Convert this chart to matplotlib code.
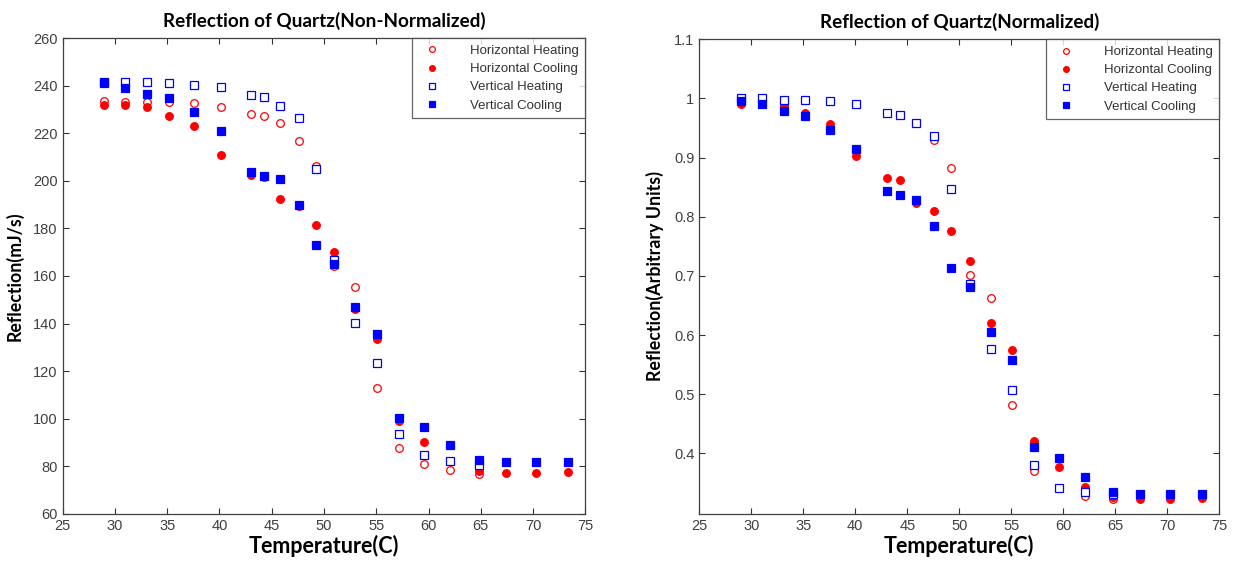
## reflection of quartz, raw and normalized ##

import matplotlib
matplotlib.use('Agg')
import matplotlib.pyplot as plt

# temperatures (C); heating runs stop at 64.8
temp_cool = [29.0, 31.0, 33.1, 35.2, 37.6, 40.1, 43.0, 44.3, 45.8, 47.6, 49.2,
             51.0, 53.0, 55.1, 57.2, 59.6, 62.1, 64.8, 67.4, 70.3, 73.3]
temp_heat = temp_cool[:18]

# non-normalized reflection (mJ/s)
h_heat = [233.7, 233.4, 233.4, 233.0, 232.6, 230.9, 228.0, 227.3, 224.3, 216.9,
          206.2, 164.3, 155.4, 112.9, 87.7, 81.0, 78.2, 76.6]
h_cool = [231.9, 231.9, 231.3, 227.3, 223.2, 211.0, 202.3, 201.6, 192.5, 189.3,
          181.4, 170.0, 146.0, 133.5, 98.9, 90.0, 82.2, 78.0, 77.2, 77.1, 77.4]
v_heat = [241.8, 241.8, 241.4, 241.0, 240.5, 239.6, 236.2, 235.1, 231.7, 226.6,
          205.0, 166.6, 140.3, 123.6, 93.7, 84.5, 82.2, 80.3]
v_cool = [241.1, 239.2, 236.5, 234.7, 228.8, 221.0, 203.8, 202.1, 201.0, 189.8,
          173.1, 165.1, 146.9, 135.4, 100.3, 96.3, 88.8, 82.5, 81.8, 81.8, 81.8]

# normalized reflection
hn_heat = [1.000, 1.000, 0.998, 0.997, 0.995, 0.990, 0.976, 0.972, 0.959, 0.929,
           0.882, 0.702, 0.663, 0.481, 0.371, 0.341, 0.328, 0.323]
hn_cool = [0.990, 0.999, 0.989, 0.975, 0.956, 0.902, 0.866, 0.862, 0.823, 0.810,
           0.776, 0.725, 0.621, 0.575, 0.421, 0.377, 0.343, 0.326, 0.323, 0.322, 0.324]
vn_heat = [1.000, 1.000, 0.998, 0.997, 0.995, 0.991, 0.976, 0.972, 0.958, 0.936,
           0.847, 0.687, 0.577, 0.507, 0.381, 0.342, 0.335, 0.331]
vn_cool = [0.995, 0.990, 0.978, 0.970, 0.946, 0.914, 0.843, 0.836, 0.829, 0.785,
           0.714, 0.681, 0.605, 0.558, 0.411, 0.392, 0.360, 0.334, 0.332, 0.332, 0.332]

labels = ['Horizontal Heating', 'Horizontal Cooling', 'Vertical Heating', 'Vertical Cooling']

plt.rcParams['font.family'] = ['Liberation Sans', 'DejaVu Sans']
title_font = {'family': 'Lato', 'weight': 'bold', 'size': 13.6}
xlab_font = {'family': 'Lato', 'weight': 'bold', 'size': 15.5}
ylab_font = {'family': 'Lato', 'weight': 'bold', 'size': 12.8}

fig = plt.figure(figsize=(12.34, 5.63), dpi=100)
ax1 = fig.add_axes([0.0508, 0.0876, 0.4235, 0.8444])
ax2 = fig.add_axes([0.5667, 0.0876, 0.4214, 0.8426])


def draw(ax, hh, hc, vh, vc, title, ylabel):
    ms = 5.5
    ax.plot(temp_heat, hh, 'o', color='red', mfc='white', mew=0.9, ms=ms, label=labels[0])
    ax.plot(temp_cool, hc, 'o', color='red', mfc='red', mew=0.9, ms=ms, label=labels[1])
    ax.plot(temp_heat, vh, 's', color='blue', mfc='white', mew=0.9, ms=ms, label=labels[2])
    ax.plot(temp_cool, vc, 's', color='blue', mfc='blue', mew=0.9, ms=ms, label=labels[3])
    ax.set_title(title, fontdict=title_font, pad=8)
    ax.set_xlabel('Temperature(C)', fontdict=xlab_font, labelpad=2)
    ax.set_ylabel(ylabel, fontdict=ylab_font, labelpad=7)
    ax.set_xlim(25, 75)
    ax.set_xticks(range(25, 80, 5))
    ax.tick_params(direction='in', top=True, right=True, length=4, width=0.8,
                   labelsize=10.5, labelcolor='#404040', color='#333333')
    for s in ax.spines.values():
        s.set_color('#404040')
        s.set_linewidth(0.9)
    leg = ax.legend(loc='upper right', fontsize=9.5, frameon=True, fancybox=False,
                    borderaxespad=0, handletextpad=1.9, labelspacing=0.45,
                    handlelength=2.0, borderpad=0.5, markerscale=0.75)
    leg.get_frame().set_edgecolor('#404040')
    leg.get_frame().set_linewidth(0.9)
    for t in leg.get_texts():
        t.set_color('#333333')


draw(ax1, h_heat, h_cool, v_heat, v_cool, 'Reflection of Quartz(Non-Normalized)', 'Reflection(mJ/s)')
ax1.set_ylim(60, 260)
ax1.set_yticks(range(60, 261, 20))

draw(ax2, hn_heat, hn_cool, vn_heat, vn_cool, 'Reflection of Quartz(Normalized)', 'Reflection(Arbitrary Units)')
ax2.set_ylim(0.298, 1.1)
ax2.set_yticks([0.4, 0.5, 0.6, 0.7, 0.8, 0.9, 1.0, 1.1])
ax2.set_yticklabels(['0.4', '0.5', '0.6', '0.7', '0.8', '0.9', '1', '1.1'])

plt.savefig('out.png', dpi=100)
